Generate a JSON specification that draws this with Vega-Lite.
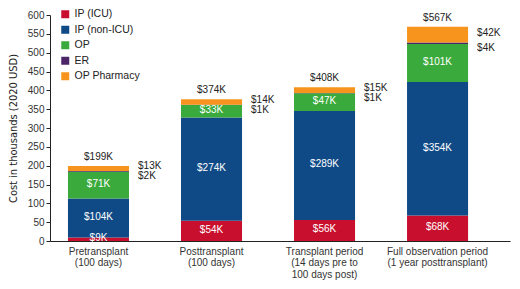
{
  "$schema": "https://vega.github.io/schema/vega-lite/v6.json",
  "width": 460,
  "height": 226,
  "autosize": {"type": "none"},
  "padding": {"left": 50, "top": 15, "right": 10, "bottom": 48},
  "background": "white",
  "config": {
    "view": {"stroke": null},
    "font": "Liberation Sans",
    "axis": {"labelColor": "#333333", "labelFont": "Liberation Sans", "labelFontSize": 10, "domainColor": "#222222", "tickColor": "#222222", "grid": false},
    "axisY": {"tickCount": 12, "labelOverlap": false, "labelFlush": false, "tickSize": 4, "labelPadding": 2}
  },
  "datasets": {
    "costs": [
      {"period": "Pretransplant|(100 days)", "category": "IP (ICU)", "k": 1, "value": 9, "label": "$9K"},
      {"period": "Pretransplant|(100 days)", "category": "IP (non-ICU)", "k": 2, "value": 104, "label": "$104K"},
      {"period": "Pretransplant|(100 days)", "category": "OP", "k": 3, "value": 71, "label": "$71K"},
      {"period": "Pretransplant|(100 days)", "category": "ER", "k": 4, "value": 2, "label": "$2K"},
      {"period": "Pretransplant|(100 days)", "category": "OP Pharmacy", "k": 5, "value": 13, "label": "$13K"},
      {"period": "Posttransplant|(100 days)", "category": "IP (ICU)", "k": 1, "value": 54, "label": "$54K"},
      {"period": "Posttransplant|(100 days)", "category": "IP (non-ICU)", "k": 2, "value": 274, "label": "$274K"},
      {"period": "Posttransplant|(100 days)", "category": "OP", "k": 3, "value": 33, "label": "$33K"},
      {"period": "Posttransplant|(100 days)", "category": "ER", "k": 4, "value": 1, "label": "$1K"},
      {"period": "Posttransplant|(100 days)", "category": "OP Pharmacy", "k": 5, "value": 14, "label": "$14K"},
      {"period": "Transplant period|(14 days pre to|100 days post)", "category": "IP (ICU)", "k": 1, "value": 56, "label": "$56K"},
      {"period": "Transplant period|(14 days pre to|100 days post)", "category": "IP (non-ICU)", "k": 2, "value": 289, "label": "$289K"},
      {"period": "Transplant period|(14 days pre to|100 days post)", "category": "OP", "k": 3, "value": 47, "label": "$47K"},
      {"period": "Transplant period|(14 days pre to|100 days post)", "category": "ER", "k": 4, "value": 1, "label": "$1K"},
      {"period": "Transplant period|(14 days pre to|100 days post)", "category": "OP Pharmacy", "k": 5, "value": 15, "label": "$15K"},
      {"period": "Full observation period|(1 year posttransplant)", "category": "IP (ICU)", "k": 1, "value": 68, "label": "$68K"},
      {"period": "Full observation period|(1 year posttransplant)", "category": "IP (non-ICU)", "k": 2, "value": 354, "label": "$354K"},
      {"period": "Full observation period|(1 year posttransplant)", "category": "OP", "k": 3, "value": 101, "label": "$101K"},
      {"period": "Full observation period|(1 year posttransplant)", "category": "ER", "k": 4, "value": 4, "label": "$4K"},
      {"period": "Full observation period|(1 year posttransplant)", "category": "OP Pharmacy", "k": 5, "value": 42, "label": "$42K"}
    ],
    "totals": [
      {"period": "Pretransplant|(100 days)", "value": 199, "label": "$199K"},
      {"period": "Posttransplant|(100 days)", "value": 376, "label": "$374K"},
      {"period": "Transplant period|(14 days pre to|100 days post)", "value": 408, "label": "$408K"},
      {"period": "Full observation period|(1 year posttransplant)", "value": 569, "label": "$567K"}
    ]
  },
  "encoding": {
    "x": {
      "field": "period",
      "type": "nominal",
      "sort": ["Pretransplant|(100 days)", "Posttransplant|(100 days)", "Transplant period|(14 days pre to|100 days post)", "Full observation period|(1 year posttransplant)"],
      "scale": {"paddingInner": 0.46, "paddingOuter": 0.265, "align": 0.3},
      "axis": {"title": null, "labelAngle": 0, "ticks": false, "labelPadding": 5, "labelBaseline": "top", "labelLineHeight": 11.5, "labelExpr": "split(datum.label, '|')", "labelFontSize": 10}
    }
  },
  "layer": [
    {
      "data": {"name": "costs"},
      "mark": {"type": "bar"},
      "encoding": {
        "y": {
          "field": "value", "type": "quantitative", "stack": "zero",
          "scale": {"domain": [0, 600], "nice": false},
          "axis": {"title": "Cost in thousands (2020 USD)", "titleFont": "'DejaVu Sans Condensed', 'Liberation Sans Narrow', 'Liberation Sans', sans-serif", "titleFontSize": 11, "titleFontWeight": "normal", "titleColor": "#222222", "titlePadding": 9}
        },
        "color": {
          "field": "category", "type": "nominal",
          "scale": {"domain": ["IP (ICU)", "IP (non-ICU)", "OP", "ER", "OP Pharmacy"], "range": ["#c8102e", "#0f4a87", "#3aaa3c", "#4b2568", "#f7941d"]},
          "legend": {"title": null, "orient": "none", "legendX": 10, "legendY": -6, "symbolType": "square", "symbolSize": 64, "symbolStrokeWidth": 0, "labelFontSize": 10.5, "labelColor": "#222222", "rowPadding": 4.5, "padding": 0, "labelOffset": 4}
        },
        "order": {"field": "k", "type": "quantitative"}
      }
    },
    {
      "data": {"name": "costs"},
      "transform": [
        {"stack": "value", "groupby": ["period"], "sort": [{"field": "k"}], "as": ["v0", "v1"]},
        {"calculate": "(datum.v0 + datum.v1) / 2", "as": "mid"},
        {"filter": "datum.k <= 3"}
      ],
      "mark": {"type": "text", "color": "white", "fontSize": 10, "baseline": "middle", "dy": -1},
      "encoding": {
        "y": {"field": "mid", "type": "quantitative"},
        "text": {"field": "label"}
      }
    },
    {
      "data": {"name": "costs"},
      "transform": [
        {"stack": "value", "groupby": ["period"], "sort": [{"field": "k"}], "as": ["v0", "v1"]},
        {"calculate": "(datum.v0 + datum.v1) / 2", "as": "mid"},
        {"filter": "datum.k == 5"}
      ],
      "mark": {"type": "text", "color": "#222222", "fontSize": 10, "baseline": "middle", "align": "left", "dx": 9, "dy": -2},
      "encoding": {
        "x": {"field": "period", "type": "nominal", "bandPosition": 1, "sort": ["Pretransplant|(100 days)", "Posttransplant|(100 days)", "Transplant period|(14 days pre to|100 days post)", "Full observation period|(1 year posttransplant)"]},
        "y": {"field": "mid", "type": "quantitative"},
        "text": {"field": "label"}
      }
    },
    {
      "data": {"name": "costs"},
      "transform": [
        {"stack": "value", "groupby": ["period"], "sort": [{"field": "k"}], "as": ["v0", "v1"]},
        {"calculate": "(datum.v0 + datum.v1) / 2", "as": "mid"},
        {"filter": "datum.k == 4"}
      ],
      "mark": {"type": "text", "color": "#222222", "fontSize": 10, "baseline": "middle", "align": "left", "dx": 9, "dy": 5},
      "encoding": {
        "x": {"field": "period", "type": "nominal", "bandPosition": 1, "sort": ["Pretransplant|(100 days)", "Posttransplant|(100 days)", "Transplant period|(14 days pre to|100 days post)", "Full observation period|(1 year posttransplant)"]},
        "y": {"field": "mid", "type": "quantitative"},
        "text": {"field": "label"}
      }
    },
    {
      "data": {"name": "totals"},
      "mark": {"type": "text", "color": "#222222", "fontSize": 10, "baseline": "middle", "dy": -9},
      "encoding": {
        "y": {"field": "value", "type": "quantitative"},
        "text": {"field": "label"}
      }
    }
  ]
}
